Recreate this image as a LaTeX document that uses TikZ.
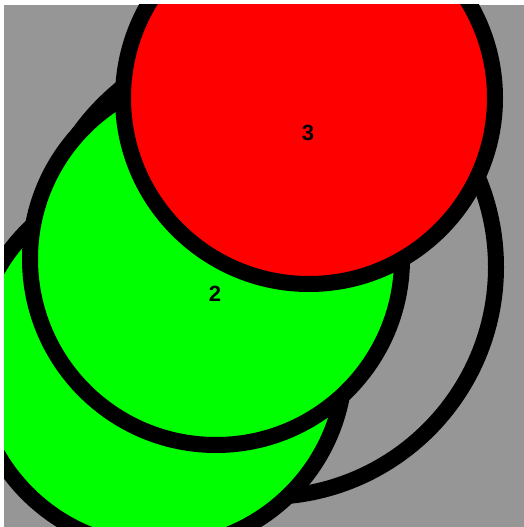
\documentclass[tikz,border=0pt]{standalone}
\usepackage{fontspec}
\setmainfont{Liberation Sans}
\definecolor{bggray}{RGB}{150,150,150}
\definecolor{grn}{RGB}{0,255,0}
\definecolor{rd}{RGB}{255,0,0}
\begin{document}
\begin{tikzpicture}[x=1pt,y=-1pt,
  ring/.style={draw=black,line width=16pt},
  lbl/.style={font=\fontsize{22}{24}\selectfont\bfseries,text=black,inner sep=0pt}]
\useasboundingbox (0,0) rectangle (524,527);
\fill[white] (0,0) rectangle (524,527);
\fill[bggray] (4,5) rectangle (524,527);
\begin{scope}
\clip (4,5) rectangle (524,527);
\draw[ring] (266,267) circle[radius=230];
\draw[ring,fill=grn] (159,362) circle[radius=186];
\draw[ring,fill=grn] (216,259) circle[radius=186];
\draw[ring,fill=rd] (309,98) circle[radius=186];
\end{scope}
\node[lbl] (n2) at (215,294) {2};
\node[lbl] (n3) at (308,133) {3};
\end{tikzpicture}
\end{document}
